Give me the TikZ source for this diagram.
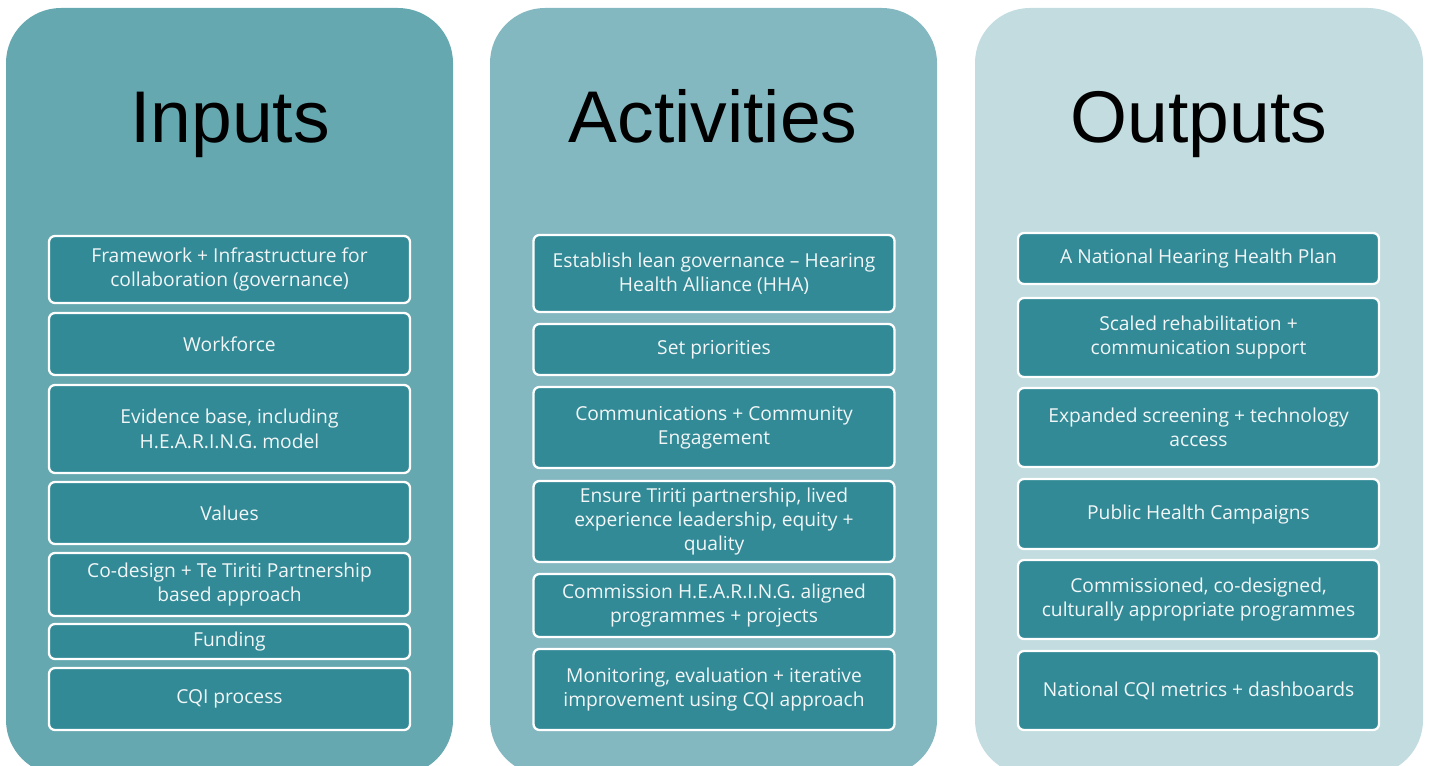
\documentclass[tikz,border=0pt]{standalone}
\usepackage{fontspec}
\setmainfont{Open Sans}
\newfontfamily\titlefont{Liberation Sans}
\definecolor{panelA}{HTML}{65A8B0}
\definecolor{panelB}{HTML}{84B8C1}
\definecolor{panelC}{HTML}{C2DCE0}
\definecolor{boxfill}{HTML}{318A96}
\definecolor{boxtext}{HTML}{F2F6F7}
\tikzset{
  panel/.style={rounded corners=55bp, draw=none},
  heading/.style={anchor=base, inner sep=0pt, font=\titlefont\fontsize{73.5}{80}\selectfont, text=black},
  stepbox/.style={draw=white, line width=2.3bp, fill=boxfill, rounded corners=6bp,
    text=boxtext, align=center, inner sep=0pt, minimum width=361bp,
    font=\fontsize{19.3}{24.5}\selectfont},
}
\begin{document}
\begin{tikzpicture}[x=1bp,y=-1bp]
\useasboundingbox (0,0) rectangle (1432,765);
\clip (0,0) rectangle (1432,765);

% column panels
\fill[panel, panelA] (6,8) rectangle (453,775);
\fill[panel, panelB] (490,8) rectangle (937,775);
\fill[panel, panelC] (975,8) rectangle (1423,775);

% headings
\node[heading] (tin)  at (230,142) {Inputs};
\node[heading] (tact) at (713,142) {Activities};
\node[heading] (tout) at (1199,142) {Outputs};

% inputs
\node[stepbox, minimum height=67bp] (i1) at (229.5,269.5) {Framework + Infrastructure for\\collaboration (governance)};
\node[stepbox, minimum height=62bp] (i2) at (229.5,344) {Workforce};
\node[stepbox, minimum height=88bp] (i3) at (229.5,429) {Evidence base, including\\H.E.A.R.I.N.G. model};
\node[stepbox, minimum height=62bp] (i4) at (229.5,513) {Values};
\node[stepbox, minimum height=63bp] (i5) at (229.5,584.5) {Co-design + Te Tiriti Partnership\\based approach};
\node[stepbox, minimum height=35bp] (i6) at (229.5,641.5) {Funding};
\node[stepbox, minimum height=62bp] (i7) at (229.5,699) {CQI process};

% activities
\node[stepbox, minimum height=77bp] (a1) at (714,273.5) {Establish lean governance -- Hearing\\Health Alliance (HHA)};
\node[stepbox, minimum height=51bp] (a2) at (714,349.5) {Set priorities};
\node[stepbox, minimum height=81bp] (a3) at (714,427.5) {Communications + Community\\Engagement};
\node[stepbox, minimum height=81bp] (a4) at (714,521.5) {Ensure Tiriti partnership, lived\\experience leadership, equity +\\quality};
\node[stepbox, minimum height=63bp] (a5) at (714,605.5) {Commission H.E.A.R.I.N.G. aligned\\programmes + projects};
\node[stepbox, minimum height=81bp] (a6) at (714,689.5) {Monitoring, evaluation + iterative\\improvement using CQI approach};

% outputs
\node[stepbox, minimum height=51bp] (o1) at (1198.5,258.5) {A National Hearing Health Plan};
\node[stepbox, minimum height=79bp] (o2) at (1198.5,337.5) {Scaled rehabilitation +\\communication support};
\node[stepbox, minimum height=79bp] (o3) at (1198.5,427.5) {Expanded screening + technology\\access};
\node[stepbox, minimum height=70bp] (o4) at (1198.5,514) {Public Health Campaigns};
\node[stepbox, minimum height=79bp] (o5) at (1198.5,599.5) {Commissioned, co-designed,\\culturally appropriate programmes};
\node[stepbox, minimum height=79bp] (o6) at (1198.5,690.5) {National CQI metrics + dashboards};
\end{tikzpicture}
\end{document}
